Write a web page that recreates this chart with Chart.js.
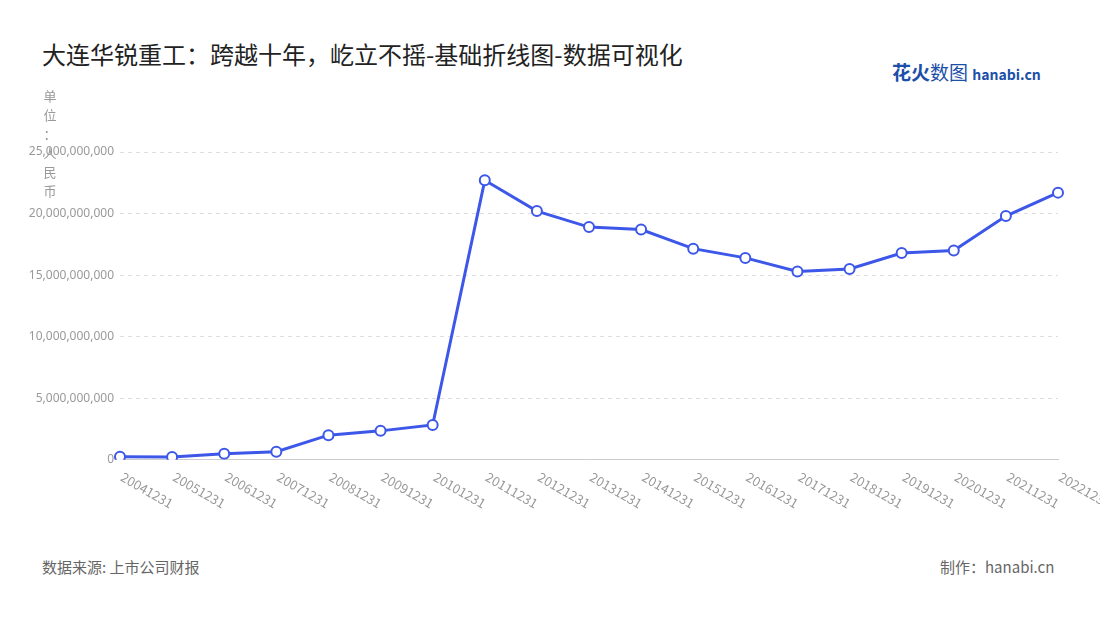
<!DOCTYPE html>
<html><head><meta charset="utf-8">
<script src="https://cdn.jsdelivr.net/npm/chart.js@4"></script>
<style>body{margin:0;background:#fff}#wrap{position:relative;width:1100px;height:620px}
.t{position:absolute;font-family:"Noto Sans CJK SC","Noto Sans",sans-serif}</style></head>
<body><div id="wrap">
<div class="t" style="left:42px;top:36px;font-size:24px;color:#222">大连华锐重工：跨越十年，屹立不摇-基础折线图-数据可视化</div>
<div class="t" style="left:892px;top:58px;font-size:19px;font-weight:bold;color:#1b4fa8">花火<span style="font-weight:normal">数图</span> <span style="font-size:14px;color:#1b4fa8">hanabi.cn</span></div>
<div class="t" style="left:42px;top:556px;font-size:15px;color:#666">数据来源: 上市公司财报</div>
<div class="t" style="left:940px;top:556px;font-size:15px;color:#666">制作：hanabi.cn</div>
<canvas id="c" width="1100" height="620" style="position:absolute;left:0;top:0"></canvas>
</div>
<script>
const categories=["20041231","20051231","20061231","20071231","20081231","20091231","20101231","20111231","20121231","20131231","20141231","20151231","20161231","20171231","20181231","20191231","20201231","20211231","20221231"];
const values=[0.24e9,0.22e9,0.5e9,0.65e9,2.0e9,2.35e9,2.83e9,22.7e9,20.2e9,18.9e9,18.7e9,17.15e9,16.4e9,15.3e9,15.5e9,16.8e9,17.0e9,19.8e9,21.7e9];
const yTitle="单位：人民币";
const labelPlugin={id:'lbl',afterDraw(ch){const c=ch.ctx,x=ch.scales.x,y=ch.scales.y;c.save();
c.font='13px "Noto Sans CJK SC","Noto Sans",sans-serif';c.fillStyle='#999';
categories.forEach((l,i)=>{const px=x.getPixelForValue(i);c.save();c.translate(px+2,y.bottom+16);c.rotate(Math.PI/6);c.textAlign='left';c.textBaseline='middle';c.fillText(l,0,0);c.restore();});
c.textAlign='center';c.textBaseline='middle';[...yTitle].forEach((ch2,i)=>c.fillText(ch2,50,96+i*19));
c.restore();}};
new Chart(document.getElementById('c'),{type:'line',
data:{labels:categories,datasets:[{data:values,borderColor:'#3d57e8',borderWidth:3,pointRadius:5,pointBorderWidth:2,pointBackgroundColor:'#fff',pointBorderColor:'#3d57e8',tension:0}]},
options:{responsive:false,animation:false,layout:{padding:{left:0,right:42,top:152,bottom:147}},
plugins:{legend:{display:false},tooltip:{enabled:false}},
scales:{x:{offset:false,grid:{display:false,drawOnChartArea:false,tickLength:6,color:'#ccc'},border:{color:'#ccc'},ticks:{color:'rgba(0,0,0,0)',maxRotation:0,autoSkip:false,font:{size:1}}},
y:{min:0,max:25e9,afterFit(s){s.width=120},grid:{color:'#ddd',tickLength:0},border:{display:false,dash:[4,4]},ticks:{stepSize:5e9,padding:6,color:'#999',font:{size:12,family:'"Noto Sans","Noto Sans CJK SC",sans-serif'},callback:v=>v.toLocaleString('en-US')}}}},
plugins:[labelPlugin]});
</script></body></html>
